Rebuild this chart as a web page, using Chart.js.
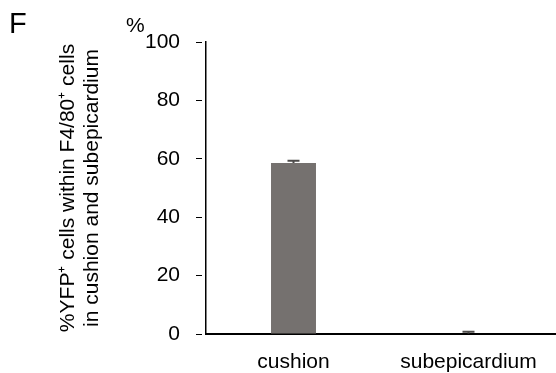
<!DOCTYPE html>
<html lang="en">
<head>
    <meta charset="UTF-8">
    <title>%YFP+ cells within F4/80+ cells</title>
    <script src="https://cdn.jsdelivr.net/npm/chart.js"></script>
    <style>
        html, body {
            margin: 0;
            padding: 0;
            background: #ffffff;
        }
        #wrap {
            width: 556px;
            height: 373px;
        }
    </style>
</head>
<body>
    <div id="wrap"><canvas id="barChart"></canvas></div>

    <script>
        // data
        const categories = ['cushion', 'subepicardium'];
        const means = [58.6, 0.2];
        const errors = [0.7, 0.6];
        const yTicks = [0, 20, 40, 60, 80, 100];
        const yTitle = ['%YFP\u207A cells within F4/80\u207A cells', 'in cushion and subepicardium'];
        const panelLetter = 'F';
        const unitLabel = '%';

        const FONT = "'Liberation Sans', Arial, sans-serif";

        // upper error bars, drawn through the scales
        const errorBars = {
            id: 'errorBars',
            afterDatasetsDraw(chart) {
                const ctx = chart.ctx;
                const yScale = chart.scales.y;
                const meta = chart.getDatasetMeta(0);
                ctx.save();
                ctx.strokeStyle = '#4d4b4a';
                ctx.lineWidth = 2;
                meta.data.forEach((bar, i) => {
                    const x = bar.x;
                    const yTop = yScale.getPixelForValue(means[i] + errors[i]);
                    const yBase = yScale.getPixelForValue(means[i]);
                    ctx.beginPath();
                    ctx.moveTo(x, yBase);
                    ctx.lineTo(x, yTop);
                    ctx.moveTo(x - 6, yTop);
                    ctx.lineTo(x + 6, yTop);
                    ctx.stroke();
                });
                ctx.restore();
            }
        };

        // panel letter and unit mark
        const labels = {
            id: 'labels',
            afterDraw(chart) {
                const ctx = chart.ctx;
                ctx.save();
                ctx.fillStyle = '#000';
                ctx.textBaseline = 'alphabetic';
                ctx.font = '29px ' + FONT;
                ctx.fillText(panelLetter, 9, 33);
                ctx.font = '21px ' + FONT;
                ctx.fillText(unitLabel, 126, 32);
                ctx.restore();
            }
        };

        new Chart(document.getElementById('barChart'), {
            type: 'bar',
            data: {
                labels: categories,
                datasets: [{
                    data: means,
                    backgroundColor: '#75716f',
                    borderWidth: 0,
                    barPercentage: 0.257,
                    categoryPercentage: 1
                }]
            },
            options: {
                responsive: true,
                maintainAspectRatio: false,
                animation: false,
                layout: { padding: { top: 42, left: 0, right: 0, bottom: 0 } },
                plugins: {
                    legend: { display: false },
                    tooltip: { enabled: false }
                },
                scales: {
                    x: {
                        grid: { display: false, drawTicks: false },
                        border: { display: true, color: '#000', width: 2 },
                        ticks: {
                            color: '#000',
                            font: { family: FONT, size: 21 },
                            padding: 16,
                            maxRotation: 0
                        },
                        afterFit(scale) { scale.height = 39; }
                    },
                    y: {
                        min: 0,
                        max: 100,
                        afterBuildTicks(scale) {
                            scale.ticks = yTicks.map(v => ({ value: v }));
                        },
                        grid: {
                            drawOnChartArea: false,
                            drawTicks: true,
                            tickLength: 10,
                            tickColor: '#000',
                            tickWidth: 1,
                            tickBorderDash: [6, 4]
                        },
                        border: { display: true, color: '#000', width: 1.5 },
                        ticks: {
                            color: '#000',
                            font: { family: FONT, size: 21 },
                            padding: 16
                        },
                        title: {
                            display: true,
                            text: yTitle,
                            color: '#000',
                            font: { family: FONT, size: 21, lineHeight: 24 / 21 },
                            padding: { top: 56, bottom: 0 }
                        },
                        afterFit(scale) { scale.width = 206; }
                    }
                }
            },
            plugins: [errorBars, labels]
        });
    </script>
</body>
</html>
